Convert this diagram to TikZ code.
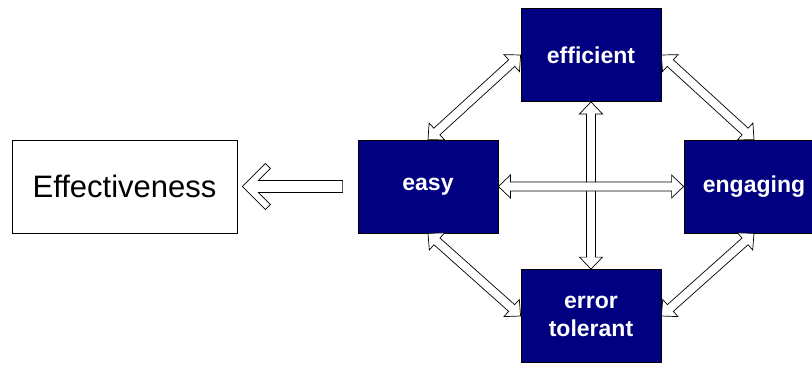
\documentclass[tikz,border=0pt]{standalone}
\usepackage{fontspec}
\setmainfont{Liberation Sans}
\usetikzlibrary{calc}
\definecolor{navyblue}{RGB}{0,0,128}
\tikzset{
  quality/.style={draw=black, fill=navyblue, text=white, line width=0.8pt,
    font=\fontsize{23}{28}\selectfont\bfseries, align=center,
    minimum width=140pt, minimum height=93pt, inner sep=0pt},
  goal/.style={draw=black, fill=white, line width=0.8pt,
    font=\fontsize{31}{36}\selectfont,
    minimum width=225pt, minimum height=93pt, inner sep=0pt},
  arrowbody/.style={draw=black, fill=white, line width=0.7pt, line join=miter}
}
% hollow arrow with a head at both ends
\newcommand\biarrow[2]{%
  \draw[arrowbody] (#1)
    -- ($(#1)!12pt!(#2)!11.5pt!90:(#2)$) -- ($(#1)!12pt!(#2)!4.5pt!90:(#2)$)
    -- ($(#2)!12pt!(#1)!4.5pt!-90:(#1)$) -- ($(#2)!12pt!(#1)!11.5pt!-90:(#1)$)
    -- (#2)
    -- ($(#2)!12pt!(#1)!11.5pt!90:(#1)$) -- ($(#2)!12pt!(#1)!4.5pt!90:(#1)$)
    -- ($(#1)!12pt!(#2)!4.5pt!-90:(#2)$) -- ($(#1)!12pt!(#2)!11.5pt!-90:(#2)$)
    -- cycle;}
% hollow arrow with one open head, tip first
\newcommand\onearrow[2]{%
  \draw[arrowbody] (#1)
    -- ($(#1)!23pt!(#2)!23pt!90:(#2)$) -- ($(#1)!28pt!(#2)!18pt!90:(#2)$)
    -- ($(#1)!16pt!(#2)!6pt!90:(#2)$)
    -- ($(#2)!6pt!-90:(#1)$) -- ($(#2)!6pt!90:(#1)$)
    -- ($(#1)!16pt!(#2)!6pt!-90:(#2)$)
    -- ($(#1)!28pt!(#2)!18pt!-90:(#2)$) -- ($(#1)!23pt!(#2)!23pt!-90:(#2)$)
    -- cycle;}

\begin{document}
\begin{tikzpicture}[x=1pt,y=-1pt]
\useasboundingbox (0,0) rectangle (812,365);
\node[goal] (eff) at (124.5,186.5) {Effectiveness};
\node[quality] (easy) at (428,186.5) {easy};
\node[quality] (efficient) at (591,55) {efficient};
\node[quality] (engaging) at (754,186.5) {engaging};
\node[quality] (error) at (591,316) {error\\tolerant};
\coordinate (efftip) at ([xshift=5pt]eff.east);
\coordinate (easytail) at ([xshift=-15pt]easy.west);
\onearrow{efftip}{easytail}
\biarrow{efficient.south}{error.north}
\biarrow{easy.east}{engaging.west}
\biarrow{efficient.west}{easy.north}
\biarrow{efficient.east}{engaging.north}
\biarrow{easy.south}{error.west}
\biarrow{engaging.south}{error.east}
\end{tikzpicture}
\end{document}
